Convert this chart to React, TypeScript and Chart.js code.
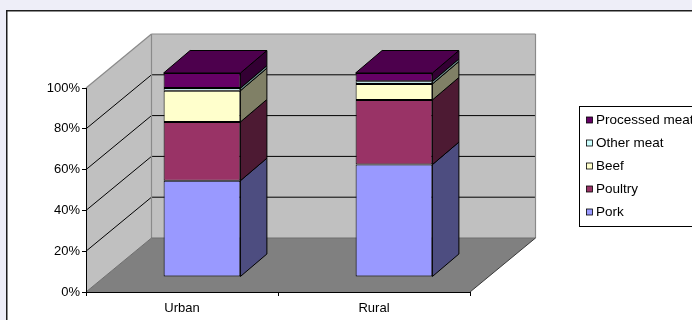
import React, { useEffect, useRef } from 'react';
import { Chart, registerables } from 'chart.js';

Chart.register(...registerables);

// ---------- data ----------
const categories = ['Urban', 'Rural'];
const seriesNames = ['Pork', 'Poultry', 'Beef', 'Other meat', 'Processed meat'];
const pork = [47.2, 55.1];
const poultry = [28.8, 31.7];
const beef = [15.3, 7.8];
const otherMeat = [1.3, 1.3];
const processedMeat = [7.4, 4.1];
const yTicks = [0, 20, 40, 60, 80, 100];
const seriesValues = [pork, poultry, beef, otherMeat, processedMeat];
const seriesColors = ['#9999FF', '#993366', '#FFFFCC', '#CCFFFF', '#660066'];

// ---------- styling / projection ----------
const FONT = '"Liberation Sans", Arial, Helvetica, sans-serif';
const DEPTH = { x: 65.5, y: -54 }; // floor depth (front axis plane -> back wall)
const BAR_SHIFT = { x: 20, y: -15 }; // bar front plane relative to axis plane
const BAR_DEPTH = { x: 26.5, y: -22.5 }; // bar thickness in depth

function shade(hex: string, f: number): string {
  const n = parseInt(hex.slice(1), 16);
  const r = Math.round(((n >> 16) & 255) * f);
  const g = Math.round(((n >> 8) & 255) * f);
  const b = Math.round((n & 255) * f);
  return `rgb(${r},${g},${b})`;
}

function poly(ctx: CanvasRenderingContext2D, pts: number[][], fill?: string, stroke?: string, lw = 1) {
  ctx.beginPath();
  ctx.moveTo(pts[0][0], pts[0][1]);
  for (let i = 1; i < pts.length; i++) ctx.lineTo(pts[i][0], pts[i][1]);
  ctx.closePath();
  if (fill) {
    ctx.fillStyle = fill;
    ctx.fill();
  }
  if (stroke) {
    ctx.strokeStyle = stroke;
    ctx.lineWidth = lw;
    ctx.stroke();
  }
}

function line(ctx: CanvasRenderingContext2D, x1: number, y1: number, x2: number, y2: number, color: string, lw = 1) {
  ctx.beginPath();
  ctx.moveTo(x1, y1);
  ctx.lineTo(x2, y2);
  ctx.strokeStyle = color;
  ctx.lineWidth = lw;
  ctx.stroke();
}

const threeDPlugin = {
  id: 'threeD',
  beforeDraw(chart: any) {
    const { ctx, chartArea: a, scales } = chart;
    const ys = scales.y;
    const W = chart.width;
    const H = chart.height;
    ctx.save();
    // page + chart frame
    ctx.fillStyle = '#EEEEF8';
    ctx.fillRect(0, 0, W, H);
    ctx.fillStyle = '#FFFFFF';
    ctx.fillRect(6, 10, W, H);
    ctx.strokeStyle = '#1E1E1E';
    ctx.lineWidth = 1.5;
    ctx.strokeRect(6.75, 10.75, W + 20, H + 20);

    const dx = DEPTH.x;
    const dy = DEPTH.y;
    const top = ys.getPixelForValue(100);
    const bot = ys.getPixelForValue(0);
    const L = a.left;
    const R = a.right;

    // back wall
    poly(ctx, [[L + dx, top + dy], [R + dx, top + dy], [R + dx, bot + dy], [L + dx, bot + dy]], '#C0C0C0');
    // left wall
    poly(ctx, [[L, top], [L + dx, top + dy], [L + dx, bot + dy], [L, bot]], '#C0C0C0');
    // floor
    poly(ctx, [[L, bot], [R, bot], [R + dx, bot + dy], [L + dx, bot + dy]], '#808080');

    // gridlines
    yTicks.forEach((v) => {
      if (v <= 0 || v >= 100) return;
      const py = ys.getPixelForValue(v);
      line(ctx, L + dx, py + dy, R + dx, py + dy, '#000000', 1);
      line(ctx, L, py, L + dx, py + dy, '#000000', 1);
    });

    // wall edges
    const edge = '#8A8A8A';
    line(ctx, L, top, L + dx, top + dy, edge, 1.2);
    line(ctx, L + dx, top + dy, R + dx, top + dy, edge, 1.2);
    line(ctx, R + dx, top + dy, R + dx, bot + dy, edge, 1.2);
    line(ctx, L + dx, top + dy, L + dx, bot + dy, edge, 1.2);
    line(ctx, L + dx, bot + dy, R + dx, bot + dy, '#6E6E6E', 1.2);
    line(ctx, L, bot, L + dx, bot + dy, '#6E6E6E', 1);
    line(ctx, R, bot, R + dx, bot + dy, '#3A3A3A', 1);
    ctx.restore();
  },
  beforeDatasetsDraw(chart: any) {
    chart.ctx.save();
    chart.ctx.translate(BAR_SHIFT.x, BAR_SHIFT.y);
  },
  afterDatasetsDraw(chart: any) {
    const ctx = chart.ctx;
    const n = chart.data.datasets.length;
    const bx = BAR_DEPTH.x;
    const by = BAR_DEPTH.y;
    categories.forEach((_, ci) => {
      let lastTop: any = null;
      for (let di = 0; di < n; di++) {
        const meta = chart.getDatasetMeta(di);
        const el = meta.data[ci];
        if (!el) continue;
        const p = el.getProps(['x', 'y', 'base', 'width'], true);
        const right = p.x + p.width / 2;
        const yTop = Math.min(p.y, p.base);
        const yBot = Math.max(p.y, p.base);
        const col = seriesColors[di];
        poly(ctx, [[right, yTop], [right + bx, yTop + by], [right + bx, yBot + by], [right, yBot]], shade(col, 0.5), '#000000', 1);
        if (yBot - yTop > 0.01) lastTop = { p, di, yTop };
      }
      if (lastTop) {
        const { p, di, yTop } = lastTop;
        const left = p.x - p.width / 2;
        const right = p.x + p.width / 2;
        poly(ctx, [[left, yTop], [left + bx, yTop + by], [right + bx, yTop + by], [right, yTop]], shade(seriesColors[di], 0.75), '#000000', 1);
      }
    });
    ctx.restore();
  },
  afterDraw(chart: any) {
    const ctx = chart.ctx;
    ctx.save();
    // legend
    const lx = 579.5;
    const ly = 106.5;
    ctx.fillStyle = '#FFFFFF';
    ctx.fillRect(lx, ly, 200, 120);
    ctx.strokeStyle = '#000000';
    ctx.lineWidth = 1;
    ctx.strokeRect(lx, ly, 200, 120);
    ctx.font = `13.5px ${FONT}`;
    ctx.textBaseline = 'middle';
    ctx.textAlign = 'left';
    const order = seriesNames.map((_, i) => seriesNames.length - 1 - i);
    order.forEach((si, k) => {
      const cy = 120 + k * 23;
      ctx.fillStyle = seriesColors[si];
      ctx.fillRect(586.5, cy - 3, 6, 6);
      ctx.strokeStyle = '#000000';
      ctx.lineWidth = 0.8;
      ctx.strokeRect(586.5, cy - 3, 6, 6);
      ctx.fillStyle = '#000000';
      ctx.fillText(seriesNames[si], 596, cy + 0.5);
    });
    ctx.restore();
  },
};

export default function App() {
  const ref = useRef<HTMLCanvasElement | null>(null);
  useEffect(() => {
    if (!ref.current) return;
    const chart = new Chart(ref.current, {
      type: 'bar',
      data: {
        labels: categories,
        datasets: seriesNames.map((name, i) => ({
          label: name,
          data: seriesValues[i],
          backgroundColor: seriesColors[i],
          borderColor: '#000000',
          borderWidth: 1,
          borderSkipped: false,
          barPercentage: 0.4,
          categoryPercentage: 1,
          clip: false,
        })),
      },
      options: {
        responsive: false,
        animation: false,
        events: [],
        layout: { padding: { left: 0, top: 88, right: 222, bottom: 0 } },
        plugins: { legend: { display: false }, tooltip: { enabled: false } },
        scales: {
          x: {
            stacked: true,
            grid: { display: true, drawOnChartArea: false, drawTicks: true, tickLength: 4, color: '#000000', offset: true },
            border: { display: true, color: '#000000', width: 1 },
            ticks: { color: '#000000', font: { family: FONT, size: 13 }, padding: 5, maxRotation: 0 },
            afterFit: (s: any) => {
              s.height = 28;
            },
          },
          y: {
            stacked: true,
            min: 0,
            max: 100,
            grid: { display: true, drawOnChartArea: false, drawTicks: true, tickLength: 4, color: '#000000' },
            border: { display: true, color: '#000000', width: 1 },
            ticks: {
              stepSize: 20,
              color: '#000000',
              padding: 2,
              font: { family: FONT, size: 13 },
              callback: (v: any) => `${v}%`,
            },
            afterFit: (s: any) => {
              s.width = 86;
            },
          },
        },
      },
      plugins: [threeDPlugin],
    });
    return () => chart.destroy();
  }, []);
  return (
    <div style={{ position: 'fixed', left: 0, top: 0, width: 692, height: 320 }}>
      <canvas ref={ref} width={692} height={320} style={{ display: 'block' }} />
    </div>
  );
}
